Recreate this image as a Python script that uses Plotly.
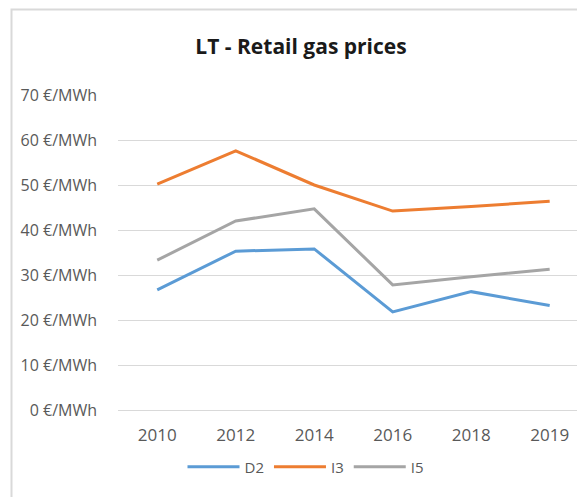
import plotly.graph_objects as go

years = ["2010", "2012", "2014", "2016", "2018", "2019"]
d2 = [26.7, 35.3, 35.8, 21.8, 26.3, 23.2]
i3 = [50.2, 57.6, 50.0, 44.2, 45.2, 46.4]
i5 = [33.3, 42.0, 44.7, 27.8, 29.6, 31.3]
y_ticks = [0, 10, 20, 30, 40, 50, 60, 70]
y_tick_labels = [f"{v} €/MWh" for v in y_ticks]

series = [("D2", d2, "#5B9BD5"), ("I3", i3, "#ED7D31"), ("I5", i5, "#A5A5A5")]

fig = go.Figure()
for name, vals, color in series:
    fig.add_trace(go.Scatter(x=years, y=vals, name=name, mode="lines",
                             line=dict(color=color, width=3)))

OFF = 8  # default page body margin
W, H = 585 - OFF, 497 - OFF
L, R, T, B = 118 - OFF, 0, 95 - OFF, 497 - 410
pw, ph = W - L - R, H - T - B


def px_x(x):
    return (x - 118) / pw


def px_y(y):
    return (410 - y) / ph


fig.update_layout(
    width=W, height=H,
    margin=dict(l=L, r=R, t=T, b=B, pad=0),
    paper_bgcolor="white", plot_bgcolor="white",
    font=dict(family="Open Sans", color="#595959"),
    title=dict(text="<b>LT - Retail gas prices</b>", xref="container", yref="container",
               x=(301 - OFF) / W, y=1 - (47 - OFF) / H, xanchor="center", yanchor="middle",
               font=dict(family="Open Sans", size=21, color="#1a1a1a")),
    showlegend=True,
    legend=dict(orientation="h", x=px_x(306), xanchor="center",
                y=px_y(467), yanchor="middle",
                font=dict(size=15, color="#595959"), itemwidth=52,
                traceorder="normal"),
    xaxis=dict(type="category", range=[-0.5, 5.45], showgrid=False,
               showline=True, linecolor="#d9d9d9", linewidth=1,
               ticks="", tickfont=dict(size=17, color="#595959"),
               ticklabelstandoff=10, fixedrange=True),
    yaxis=dict(range=[0, 70], tickvals=y_ticks, ticktext=y_tick_labels,
               showgrid=True, gridcolor="#d9d9d9", gridwidth=1,
               zeroline=False, showline=False, ticks="",
               tickfont=dict(size=16, color="#595959"),
               ticklabelstandoff=20, fixedrange=True),
    shapes=[dict(type="rect", xref="paper", yref="paper",
                 x0=px_x(11.5), x1=1.3, y0=-1, y1=px_y(9.5),
                 line=dict(color="#d9d9d9", width=2), layer="below")],
)

fig.write_html("out.html")
